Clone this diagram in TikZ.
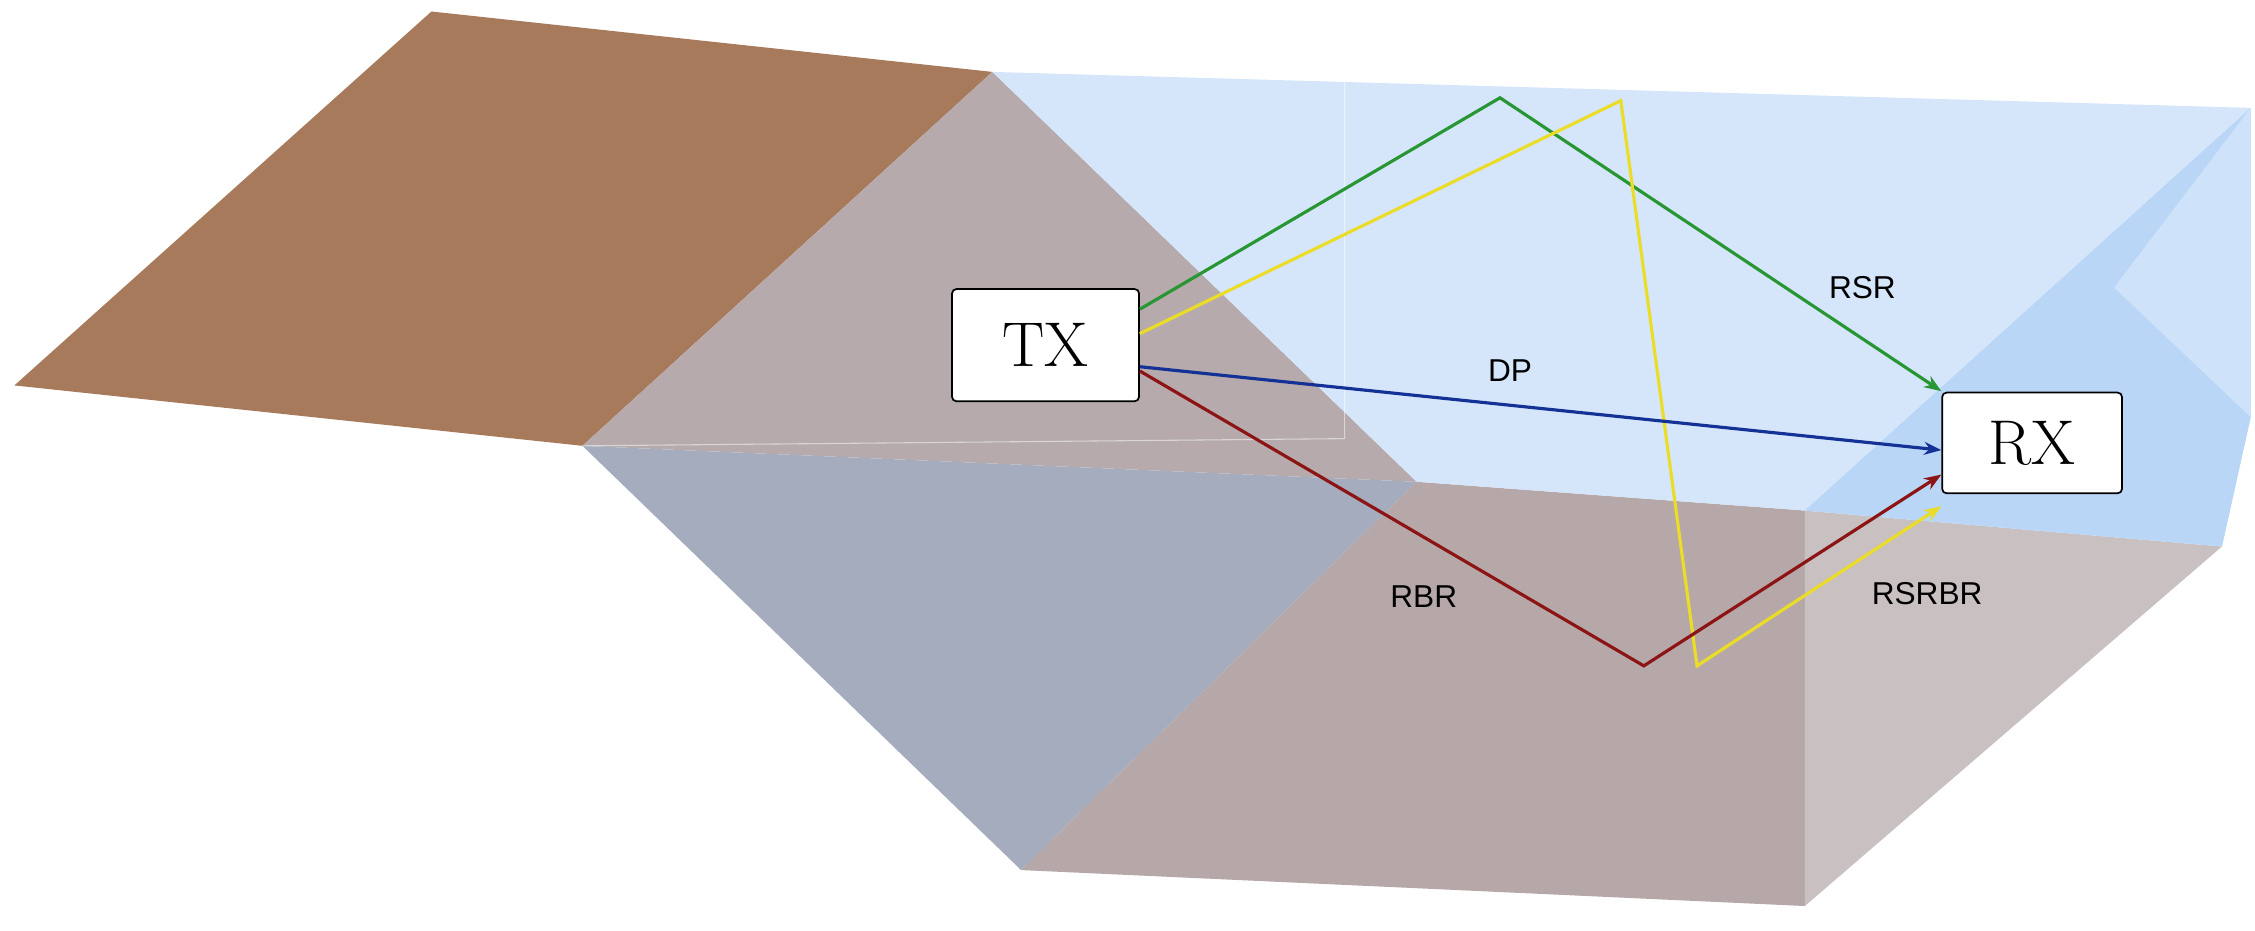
\documentclass[tikz,border=0pt]{standalone}
\usepackage{fontspec}
\newfontfamily\labelfont{Liberation Sans}
\usetikzlibrary{arrows.meta}
\definecolor{soil}{RGB}{168,122,92}
\definecolor{wallgray}{RGB}{182,170,172}
\definecolor{wallblue}{RGB}{164,172,190}
\definecolor{floorgray}{RGB}{182,168,168}
\definecolor{sidegray}{RGB}{201,192,193}
\definecolor{airblue}{RGB}{206,226,250}
\definecolor{sideblue}{RGB}{186,214,246}
\definecolor{raygreen}{RGB}{40,150,50}
\definecolor{rayyellow}{RGB}{235,220,40}
\definecolor{rayblue}{RGB}{20,50,150}
\definecolor{rayred}{RGB}{140,20,20}
\tikzset{every picture/.style={line width=0.75pt},
  antenna/.style={draw, rounded corners=3pt, fill=white, line width=1.2pt, minimum width=130, minimum height=78, font=\fontsize{44}{44}\selectfont},
  ray/.style={line width=2.2pt, -{Stealth[length=12pt,width=9pt]}},
  raylabel/.style={font=\labelfont\fontsize{22}{22}\selectfont}}
\begin{document}
\begin{tikzpicture}[x=1pt,y=1pt,yscale=-1,xscale=1]
\useasboundingbox (0,0) rectangle (1568,647);
%Shape: ground faces
\fill [soil] (10,268) -- (300,8) -- (690,50) -- (405,310) -- cycle ;
\fill [wallgray] (690,50) -- (985,335) -- (405,310) -- cycle ;
\fill [wallblue] (405,310) -- (985,335) -- (710,605) -- cycle ;
\fill [floorgray] (985,335) -- (1255,355) -- (1255,630) -- (710,605) -- cycle ;
\fill [sidegray] (1255,355) -- (1545,380) -- (1255,630) -- cycle ;
%Shape: air volume
\fill [airblue, opacity=0.85] (690,50) -- (1565,75) -- (1565,290) -- (1545,380) -- (1255,355) -- (985,335) -- cycle ;
\fill [sideblue] (1565,75) -- (1565,290) -- (1545,380) -- (1255,355) -- cycle ;
\fill [airblue] (1565,75) -- (1565,290) -- (1470,200) -- cycle ;
\draw [white, opacity=0.5] (935,50) -- (935,305) -- (405,310) ;

%Antennas
\node [antenna] (tx) at (727,240) {TX};
\node [antenna, minimum width=125, minimum height=70] (rx) at (1413,308) {RX};

\coordinate (gtop) at (1043,68);
\coordinate (ytop) at (1127,70);
\coordinate (ybot) at (1180,463);
\coordinate (rbot) at (1143,463);

%Rays
\draw [ray, raygreen] ([yshift=-25]tx.east) -- (gtop) -- ([yshift=-36]rx.west) ;
\draw [ray, rayyellow] ([yshift=-8]tx.east) -- (ytop) -- (ybot) -- ([yshift=44]rx.west) ;
\draw [ray, rayred] ([yshift=18]tx.east) -- (rbot) -- ([yshift=22]rx.west) ;
\draw [ray, rayblue] ([yshift=15]tx.east) -- ([yshift=5]rx.west) ;

\node [raylabel] (rsr) at (1295,200) {RSR};
\node [raylabel] (dp) at (1050,258) {DP};
\node [raylabel] (rbr) at (990,415) {RBR};
\node [raylabel] (rsrbr) at (1340,413) {RSRBR};
\end{tikzpicture}
\end{document}
